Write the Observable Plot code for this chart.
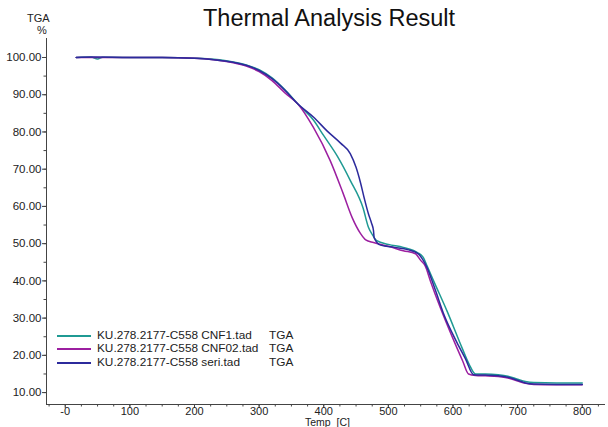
<!DOCTYPE html>
<html>
<head>
<meta charset="utf-8">
<script src="https://cdn.jsdelivr.net/npm/d3@7"></script>
<script src="https://cdn.jsdelivr.net/npm/@observablehq/plot@0.6"></script>
<style>
  html, body { margin: 0; padding: 0; background: #fff; }
  #wrap { position: relative; width: 608px; height: 427px; overflow: hidden; font-family: "Liberation Sans", Arial, sans-serif; }
  #title { position: absolute; left: 0; width: 658px; top: 5px; text-align: center; font-size: 23.5px; color: #111; white-space: nowrap; }
  .ylab { position: absolute; font-size: 11px; color: #222; }
  #legend { position: absolute; left: 57px; top: 329px; font-size: 11.8px; color: #222; }
  .row { position: relative; height: 13.3px; line-height: 13.3px; white-space: nowrap; }
  .sw { position: absolute; left: 0; top: 6px; width: 34px; height: 0; border-top: 2px solid; }
  .nm { position: absolute; left: 40px; }
  .tg { position: absolute; left: 212px; }
  svg { position: absolute; left: 0; top: 0; }
</style>
</head>
<body>
<div id="wrap">
  <div id="title">Thermal Analysis Result</div>
  <div class="ylab" style="left:27px;top:12px;">TGA</div>
  <div class="ylab" style="left:37px;top:24px;">%</div>
  <div id="legend"></div>
</div>
<script>
const seriesNames = ["KU.278.2177-C558 CNF1.tad", "KU.278.2177-C558 CNF02.tad", "KU.278.2177-C558 seri.tad"];
const seriesColors = ["#1f9a93", "#9c1fa0", "#2c2a9c"];

const cnf1Temp = [17, 40, 50, 58, 100, 150, 200, 230, 260, 280, 300, 320, 340, 360, 384, 400, 421, 441, 461, 469, 475, 482, 500, 523, 545, 554, 560, 570, 591, 614, 625, 635, 650, 670, 685, 700, 712, 725, 760, 800];
const cnf1TGA  = [100, 100.1, 99.6, 100.05, 100, 100, 99.8, 99.5, 98.8, 98.0, 96.7, 94.5, 91.3, 87.5, 83.2, 79.0, 73.5, 67.0, 59.5, 54.5, 52.5, 50.8, 49.8, 49.0, 47.6, 46.3, 44.0, 40.0, 31.8, 22.0, 17.6, 15.0, 15.0, 14.8, 14.4, 13.6, 13.0, 12.7, 12.6, 12.6];

const cnf02Temp = [17, 100, 150, 200, 230, 260, 280, 300, 320, 340, 360, 384, 410, 430, 444, 457, 465, 477, 500, 523, 542, 550, 557, 565, 580, 600, 615, 624, 635, 650, 670, 685, 700, 712, 725, 760, 800];
const cnf02TGA  = [100, 100, 100, 99.8, 99.4, 98.6, 97.7, 96.2, 93.8, 90.5, 87.5, 81.2, 72.3, 63.5, 57.0, 52.7, 51.0, 50.3, 49.3, 48.1, 47.3, 45.5, 44.0, 40.0, 33.0, 24.5, 18.5, 15.0, 14.6, 14.5, 14.3, 13.9, 13.1, 12.5, 12.2, 12.1, 12.1];

const seriTemp = [17, 45, 100, 150, 200, 230, 260, 280, 300, 320, 340, 360, 384, 405, 426, 441, 450, 457, 463, 469, 474, 477, 478, 488, 510, 530, 546, 554, 560, 573, 585, 606, 619, 632, 650, 670, 685, 700, 712, 725, 760, 800];
const seriTGA  = [100, 100.1, 100, 100, 99.8, 99.4, 98.7, 97.9, 96.5, 94.3, 91.2, 87.5, 84.0, 80.3, 77.0, 74.2, 70.5, 66.3, 62.0, 58.1, 55.5, 53.5, 51.6, 49.6, 49.0, 48.4, 47.3, 45.5, 43.5, 37.4, 31.4, 23.5, 19.2, 14.8, 14.7, 14.5, 14.1, 13.3, 12.6, 12.3, 12.2, 12.2];

const xDomain = [-29, 836];
const yDomain = [6.8, 105.1];
const xMajorTicks = [0, 100, 200, 300, 400, 500, 600, 700, 800];
const xMinorTicks = d3.range(-25, 826, 25);
const yMajorTicks = [10, 20, 30, 40, 50, 60, 70, 80, 90, 100];
const yMinorTicks = d3.range(10, 105, 5);

const temps = [cnf1Temp, cnf02Temp, seriTemp];
const tgas = [cnf1TGA, cnf02TGA, seriTGA];
const data = [];
seriesNames.forEach((name, i) => {
  temps[i].forEach((t, j) => data.push({series: name, temp: t, tga: tgas[i][j]}));
});

const axisColor = "#444";
const plot = Plot.plot({
  width: 608,
  height: 427,
  marginLeft: 46,
  marginRight: 3,
  marginTop: 38,
  marginBottom: 23,
  style: {fontFamily: "Liberation Sans, Arial, sans-serif", fontSize: "11px", color: "#222", background: "transparent"},
  x: {domain: xDomain, axis: null},
  y: {domain: yDomain, axis: null},
  color: {domain: seriesNames, range: seriesColors},
  marks: [
    Plot.ruleX([xDomain[0]], {stroke: axisColor, strokeWidth: 1}),
    Plot.ruleY([yDomain[0]], {stroke: axisColor, strokeWidth: 1}),
    Plot.axisY({ticks: yMinorTicks, tickSize: 2.5, text: null, stroke: axisColor, label: null}),
    Plot.axisY({ticks: yMajorTicks, tickSize: 4, tickPadding: 1, tickFormat: d => d.toFixed(2), stroke: axisColor, label: null, fontSize: 11.5}),
    Plot.axisX({ticks: xMinorTicks, tickSize: 2.5, text: null, stroke: axisColor, label: null}),
    Plot.axisX({ticks: xMajorTicks, tickSize: 4, tickPadding: -1, tickFormat: d => d === 0 ? "-0" : String(d), stroke: axisColor, label: null, fontSize: 11}),
    Plot.line(data, {x: "temp", y: "tga", z: "series", stroke: "series", strokeWidth: 1.5, curve: "monotone-x"})
  ]
});
const wrap = document.getElementById("wrap");
wrap.insertBefore(plot, wrap.firstChild);

// x-axis title
const xt = document.createElement("div");
xt.textContent = "Temp  [C]";
xt.style.cssText = "position:absolute;left:305px;top:418px;font-size:10.5px;line-height:9px;color:#222;white-space:pre;";
wrap.appendChild(xt);

const legend = document.getElementById("legend");
seriesNames.forEach((name, i) => {
  const row = document.createElement("div");
  row.className = "row";
  row.innerHTML = `<span class="sw" style="border-color:${seriesColors[i]}"></span><span class="nm">${name}</span><span class="tg">TGA</span>`;
  legend.appendChild(row);
});
</script>
</body>
</html>
